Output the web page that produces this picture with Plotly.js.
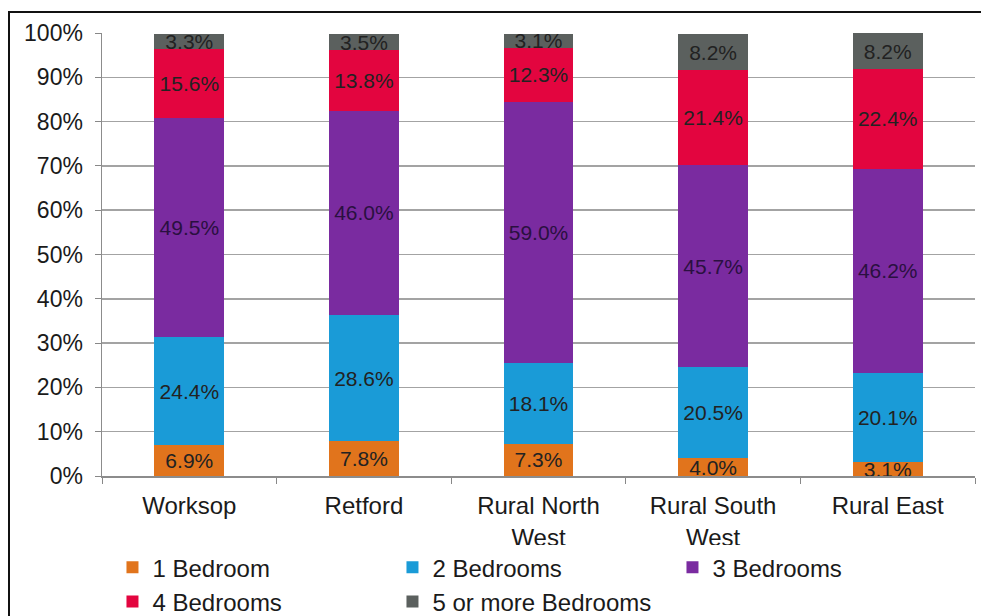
<!DOCTYPE html>
<html>
<head>
<meta charset="utf-8">
<script src="https://cdn.plot.ly/plotly-3.0.1.min.js"></script>
<style>
  html, body { margin: 0; padding: 0; background: #fff; }
  #wrap { position: relative; width: 981px; height: 616px; overflow: hidden; }
  #frame { position: absolute; left: 8px; top: 11px; right: -4px; bottom: -4px;
           border-left: 2px solid #111; border-top: 2px solid #111; pointer-events: none; }
  #chart { position: absolute; left: 0; top: 0; width: 981px; height: 616px; }
</style>
</head>
<body>
<div id="wrap">
  <div id="chart"></div>
  <div id="frame"></div>
</div>
<script>
// Housing stock by number of bedrooms, share of dwellings per area
const areas = ["Worksop", "Retford", "Rural North<br>West", "Rural South<br>West", "Rural East"];
const seriesNames = ["1 Bedroom", "2 Bedrooms", "3 Bedrooms", "4 Bedrooms", "5 or more Bedrooms"];
const oneBed   = [6.9, 7.8, 7.3, 4.0, 3.1];
const twoBed   = [24.4, 28.6, 18.1, 20.5, 20.1];
const threeBed = [49.5, 46.0, 59.0, 45.7, 46.2];
const fourBed  = [15.6, 13.8, 12.3, 21.4, 22.4];
const fivePlus = [3.3, 3.5, 3.1, 8.2, 8.2];
const yTicks   = [0, 10, 20, 30, 40, 50, 60, 70, 80, 90, 100];

const colors = ["#E1741C", "#1A9BD7", "#7A2BA0", "#E3053F", "#5B605E"];
const labelColors = ["#222", "#222", "#2a1040", "#222", "#222"];
const values = [oneBed, twoBed, threeBed, fourBed, fivePlus];

const traces = values.map((v, i) => ({
  type: "bar",
  name: seriesNames[i],
  x: areas,
  y: v,
  marker: { color: colors[i], line: { width: 0 } },
  texttemplate: "%{y:.1f}%",
  textposition: "inside",
  insidetextanchor: "middle",
  constraintext: "none",
  textangle: 0,
  textfont: { family: "Liberation Sans, Arial, sans-serif", size: 21, color: labelColors[i] },
  hoverinfo: "skip"
}));

const layout = {
  width: 981,
  height: 616,
  barmode: "stack",
  bargap: 0.6,
  paper_bgcolor: "#fff",
  plot_bgcolor: "#fff",
  margin: { l: 102, r: 6, t: 33, b: 140, autoexpand: false },
  font: { family: "Liberation Sans, Arial, sans-serif", color: "#1a1a1a" },
  xaxis: {
    type: "category",
    tickfont: { size: 24, color: "#1a1a1a" },
    ticks: "outside",
    tickson: "boundaries",
    ticklen: 6,
    tickcolor: "#888",
    showline: true,
    linecolor: "#8c8c8c",
    linewidth: 1.5,
    showgrid: false,
    ticklabelstandoff: 8
  },
  yaxis: {
    range: [0, 100],
    tickvals: yTicks,
    ticktext: yTicks.map(t => t + "%"),
    tickfont: { size: 23, color: "#1a1a1a" },
    ticks: "outside",
    ticklen: 6,
    tickcolor: "#888",
    showline: true,
    linecolor: "#8c8c8c",
    linewidth: 1.5,
    showgrid: true,
    gridcolor: "#a3a3a3",
    gridwidth: 1.5,
    zeroline: false,
    ticklabelstandoff: 7
  },
  legend: {
    orientation: "h",
    x: 0.012,
    xanchor: "left",
    y: -0.156,
    yanchor: "top",
    font: { size: 24, color: "#1a1a1a" },
    entrywidth: 235,
    entrywidthmode: "pixels",
    itemwidth: 30,
    tracegroupgap: 0,
    traceorder: "normal"
  },
  showlegend: true
};

Plotly.newPlot("chart", traces, layout, { displayModeBar: false, staticPlot: true });
</script>
</body>
</html>
